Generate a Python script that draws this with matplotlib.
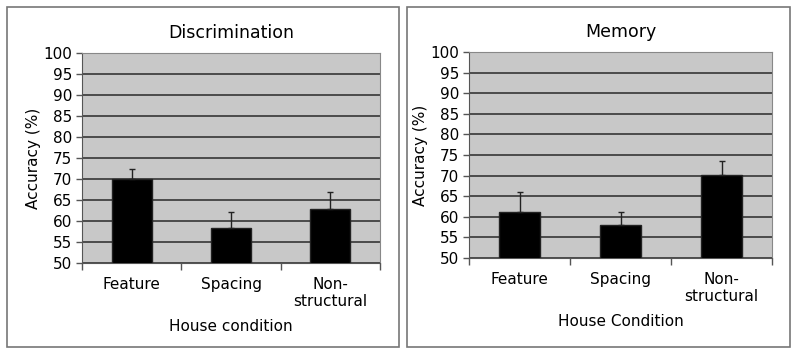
import matplotlib.pyplot as plt
from matplotlib.patches import Rectangle

# data
conditions = ['Feature', 'Spacing', 'Non-\nstructural']
disc_mean = [70.0, 58.4, 62.9]
disc_err = [2.4, 3.7, 3.9]
mem_mean = [61.2, 58.0, 70.1]
mem_err = [4.7, 3.2, 3.4]
yticks = list(range(50, 101, 5))

W, H = 793, 355
fig = plt.figure(figsize=(W / 100, H / 100), dpi=100)
plt.rcParams['font.family'] = ['DejaVu Sans']


def px_axes(x0, y0, x1, y1):
    return fig.add_axes([x0 / W, 1 - y1 / H, (x1 - x0) / W, (y1 - y0) / H])


def panel(ax, mean, err, title, xlabel):
    ax.set_facecolor('#c8c8c8')
    ax.set_axisbelow(True)
    ax.grid(axis='y', color='#2a2a2a', linewidth=1.1)
    xs = range(len(mean))
    ax.bar(xs, mean, width=0.4, color='black', edgecolor='#222222', zorder=3)
    ax.errorbar(xs, mean, yerr=[[0] * len(err), err], fmt='none',
                ecolor='#222222', elinewidth=1, capsize=2.5, capthick=1, zorder=4)
    ax.set_ylim(50, 100)
    ax.set_xlim(-0.5, 2.5)
    ax.set_yticks(yticks)
    ax.tick_params(axis='y', labelsize=11, length=4, width=1, color='#555555', pad=3)
    # excel style: tick marks between the categories, labels at centers
    ax.set_xticks([-0.5, 0.5, 1.5, 2.5])
    ax.set_xticklabels([])
    ax.set_xticks(list(xs), minor=True)
    ax.set_xticklabels(conditions, minor=True, fontsize=11, linespacing=1.2)
    ax.tick_params(axis='x', which='major', length=5, width=1, color='#555555')
    ax.tick_params(axis='x', which='minor', length=0, pad=10)
    for s in ax.spines.values():
        s.set_color('#888888')
    ax.spines['left'].set_color('#555555')
    ax.spines['bottom'].set_color('#555555')
    ax.set_ylabel('Accuracy (%)', fontsize=11, labelpad=2)
    ax.set_xlabel(xlabel, fontsize=11, labelpad=7)
    ax.set_title(title, fontsize=12.5, pad=11)


ax1 = px_axes(82, 53, 380, 263)
panel(ax1, disc_mean, disc_err, 'Discrimination', 'House condition')
ax2 = px_axes(469, 52, 772, 258)
panel(ax2, mem_mean, mem_err, 'Memory', 'House Condition')

# panel frames
for x0, x1 in [(7, 399), (407, 790)]:
    fig.patches.append(Rectangle((x0 / W, 1 - 347 / H), (x1 - x0) / W, 340 / H,
                                 transform=fig.transFigure, fill=False,
                                 edgecolor='#777777', linewidth=1.2))

fig.savefig('out.png', dpi=100)
